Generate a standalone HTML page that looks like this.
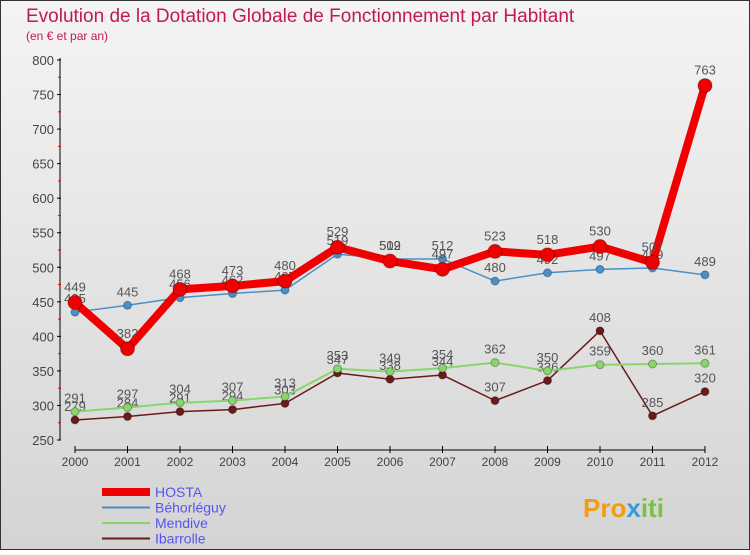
<!DOCTYPE html>
<html><head><meta charset="utf-8"><style>
body{margin:0;width:750px;height:550px;overflow:hidden;font-family:"Liberation Sans",sans-serif}
svg text{font-family:"Liberation Sans",sans-serif}
</style></head><body>
<svg id="c" width="750" height="550">
<defs><linearGradient id="bg" x1="0" y1="0" x2="0" y2="1"><stop offset="0" stop-color="#f4f4f4"/><stop offset="1" stop-color="#d4d4d4"/></linearGradient></defs>
<rect x="0.5" y="0.5" width="749" height="549" fill="url(#bg)" stroke="#333"/>
<text x="26" y="22" font-size="19" fill="#c2185b">Evolution de la Dotation Globale de Fonctionnement par Habitant</text>
<text x="26" y="40" font-size="12" fill="#c2185b">(en € et par an)</text>
<g id="axes"></g><g id="series"></g><g id="legend"></g>
<text x="583" y="517" font-size="26" font-weight="bold" fill="#f39c12">Pro<tspan fill="#3a9ad9">x</tspan><tspan fill="#7cc242">iti</tspan></text>
</svg>
<script>
const years=[2000,2001,2002,2003,2004,2005,2006,2007,2008,2009,2010,2011,2012];
const yTicks=[250,300,350,400,450,500,550,600,650,700,750,800];
const hosta=[449,382,468,473,480,529,509,497,523,518,530,507,763];
const behorleguy=[435,445,456,462,467,519,512,512,480,492,497,499,489];
const mendive=[291,297,304,307,313,353,349,354,362,350,359,360,361];
const ibarrolle=[279,284,291,294,303,347,338,344,307,336,408,285,320];
const NS="http://www.w3.org/2000/svg";
const X=i=>75+i*52.5;
const Y=v=>440-(v-250)*380/550;
function mk(p,t,a){const e=document.createElementNS(NS,t);for(const k in a)e.setAttribute(k,a[k]);p.appendChild(e);return e;}
const ax=document.getElementById('axes');
let e=mk(ax,'line',{x1:60,y1:58,x2:60,y2:440,stroke:'#000'});


e=mk(ax,'line',{x1:75,y1:450,x2:705,y2:450,stroke:'#000'});


yTicks.forEach((v,i)=>{
 mk(ax,'line',{x1:57,y1:Y(v),x2:61,y2:Y(v),stroke:'#000'});
 if(i<yTicks.length-1) mk(ax,'line',{x1:58,y1:Y(v+25),x2:61,y2:Y(v+25),stroke:'#e00'});
 const t=mk(ax,'text',{x:54,y:Y(v)+5,'font-size':13,'text-anchor':'end',fill:'#444'});
 t.textContent=v;
 
 
});
years.forEach((y,i)=>{
 mk(ax,'line',{x1:X(i),y1:446,x2:X(i),y2:453,stroke:'#000'});
 const t=mk(ax,'text',{x:X(i),y:466,'font-size':12,'text-anchor':'middle',fill:'#444'});
 t.textContent=y;
 
 
});
const S=document.getElementById('series');
function series(d,col,w,r,name){
 const g=mk(S,'g',{});
 
 
 const l=mk(g,'polyline',{points:d.map((v,i)=>X(i)+','+Y(v)).join(' '),fill:'none',stroke:col,'stroke-width':w,'stroke-linejoin':'round'});
 
 
 d.forEach((v,i)=>{
  const c=mk(g,'circle',{cx:X(i),cy:Y(v),r:r,fill:col,stroke:'rgba(0,0,0,0.3)'});
  
  
  const t=mk(g,'text',{x:X(i),y:Y(v)-9-(r>5?2:0),'font-size':13,'text-anchor':'middle',fill:'#555'});
  t.textContent=v;
  
  
 });
}
series(ibarrolle,'#6b1a1a',1.5,4,'ibarrolle');
series(mendive,'#88d66a',2,4,'mendive');
series(behorleguy,'#4a90c8',1.5,4,'behorleguy');
series(hosta,'#f00000',8,7,'hosta');
const L=document.getElementById('legend');
[['HOSTA','#f00000',8],['Béhorléguy','#4a90c8',2],['Mendive','#88d66a',2],['Ibarrolle','#6b1a1a',2]].forEach((s,i)=>{
 const y=492+i*15.5;
 const g=mk(L,'g',{});
 
 
 mk(g,'line',{x1:102,y1:y,x2:150,y2:y,stroke:s[1],'stroke-width':s[2]});
 const t=mk(g,'text',{x:155,y:y+5,'font-size':14,fill:'#5555ee'});
 t.textContent=s[0];
});
</script>
</body></html>
